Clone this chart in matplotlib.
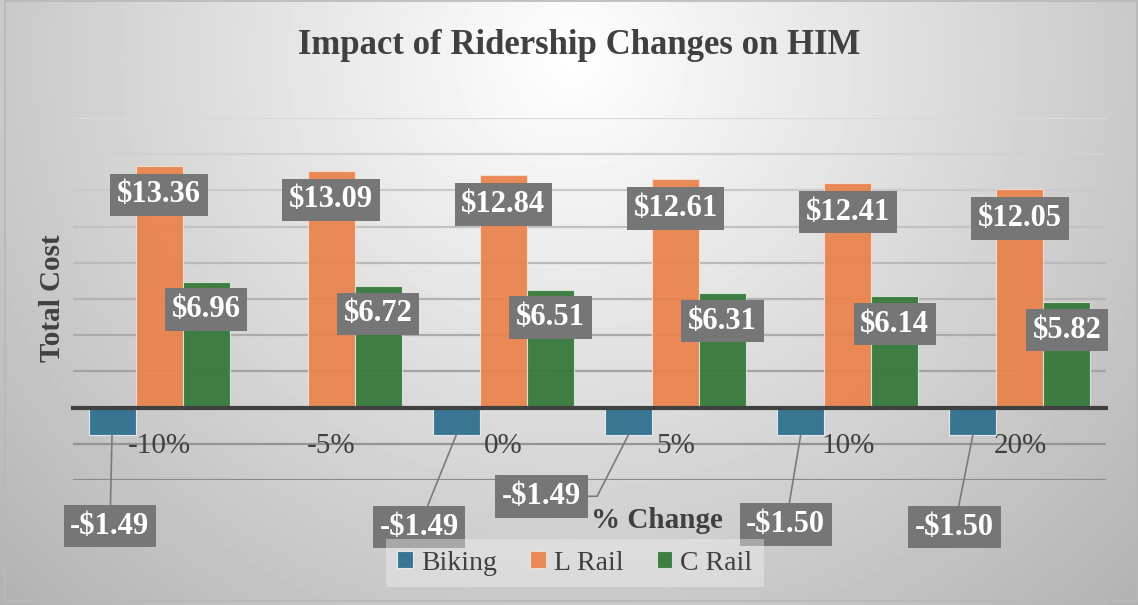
import matplotlib.pyplot as plt
from matplotlib.patches import Rectangle
import numpy as np

plt.rcParams['font.family'] = ['Liberation Serif', 'DejaVu Serif']

# Data
categories = ["-10%", "-5%", "0%", "5%", "10%", "20%"]
biking = [-1.49, np.nan, -1.49, -1.49, -1.50, -1.50]
l_rail = [13.36, 13.09, 12.84, 12.61, 12.41, 12.05]
c_rail = [6.96, 6.72, 6.51, 6.31, 6.14, 5.82]

# where the dragged Biking labels sit (data coords) -- layout only
biking_label_pos = [(-0.285, -6.55), None, (1.51, -6.6), (2.22, -4.9), (3.64, -6.45), (4.62, -6.6)]

col_bike = '#31718F'
col_l = '#E9824B'
col_c = '#36793B'
text_gray = '#404040'
box_gray = '#767676'

fig = plt.figure(figsize=(11.38, 6.05), dpi=100)

# radial gradient background
bg = fig.add_axes([0, 0, 1, 1], zorder=-10)
yy, xx = np.mgrid[0:605, 0:1138]
r = np.sqrt(((xx - 570) / 650.0) ** 2 + ((yy - 60) / 620.0) ** 2)
shade = np.clip(255 - 62 * r, 0, 255) / 255.0
bg.imshow(shade, cmap='gray', vmin=0, vmax=1, aspect='auto', interpolation='bilinear')
bg.axis('off')
fig.patches.append(Rectangle((0.004, 0.006), 0.995, 0.992, transform=fig.transFigure,
                             fill=False, edgecolor='#b8b8b8', linewidth=1.2))

ax = fig.add_axes([0.0641, 0.2066, 0.9078, 0.5984])
ax.set_facecolor('none')

x = np.arange(len(categories))
w = 0.273

# gridlines, lighter toward the top
grid_levels = np.arange(-4, 17, 2)
grid_cols = plt.cm.gray(np.linspace(0.55, 0.85, len(grid_levels)))
for lev, gc in zip(grid_levels, grid_cols):
    if lev != 0:
        ax.axhline(lev, color=gc, linewidth=1.6, zorder=0)

b1 = ax.bar(x - w, biking, w, color=col_bike, edgecolor='#e8eef2', linewidth=0.8, alpha=0.95, zorder=2, label='Biking')
b2 = ax.bar(x, l_rail, w, color=col_l, edgecolor='#f6e0d2', linewidth=0.8, alpha=0.93, zorder=2, label='L Rail')
b3 = ax.bar(x + w, c_rail, w, color=col_c, edgecolor='#d8e8d8', linewidth=0.8, alpha=0.95, zorder=2, label='C Rail')

ax.set_xlim(-0.5, len(categories) - 0.5)
ax.set_ylim(-4, 16)
ax.set_yticks([])
for s in ['left', 'right', 'top']:
    ax.spines[s].set_visible(False)
ax.spines['bottom'].set_position(('data', 0))
ax.spines['bottom'].set_color(text_gray)
ax.spines['bottom'].set_linewidth(3)
ax.spines['bottom'].set_zorder(3)
ax.set_xticks(x)
ax.set_xticklabels(categories, fontsize=21, color=text_gray)
ax.tick_params(axis='x', length=0, pad=18)

box = dict(boxstyle='square,pad=0.22', facecolor=box_gray, edgecolor='none')
lab_kw = dict(ha='center', va='center', fontsize=22, fontweight='bold', color='white',
              bbox=box, zorder=5, textcoords='offset points')

for xi, v in zip(x, l_rail):
    ax.annotate(f"${v:.2f}", (xi, v), xytext=(0, -21), **lab_kw)
for xi, v in zip(x, c_rail):
    ax.annotate(f"${v:.2f}", (xi + w, v), xytext=(0, -20), **lab_kw)

for xi, v, pos in zip(x, biking, biking_label_pos):
    if pos is None or np.isnan(v):
        continue
    if pos[1] > -5.5:
        conn = "angle,angleA=0,angleB=63,rad=0"
        rel = (1, 0.5)
    else:
        conn = "arc3"
        rel = (0.5, 0.5)
    ax.annotate(f"-${abs(v):.2f}", (xi - w, v), xytext=pos, textcoords='data',
                ha='center', va='center', fontsize=22, fontweight='bold', color='white',
                bbox=box, zorder=5, annotation_clip=False,
                arrowprops=dict(arrowstyle='-', color='#7a7a7a', linewidth=1.2,
                                shrinkA=0, shrinkB=0, relpos=rel, connectionstyle=conn))

fig.text(0.509, 1 - 45 / 605, "Impact of Ridership Changes on HIM", ha='center', va='center',
         fontsize=25, fontweight='bold', color=text_gray)
fig.text(52 / 1138, 1 - 298 / 605, "Total Cost", ha='center', va='center', rotation=90,
         fontsize=21, fontweight='bold', color=text_gray)
fig.text(657 / 1138, 1 - 521 / 605, "% Change", ha='center', va='center',
         fontsize=21, fontweight='bold', color=text_gray)

leg = fig.legend(handles=[b1, b2, b3], loc='center', bbox_to_anchor=(575 / 1138, 1 - 563 / 605),
                 ncol=3, fontsize=20, frameon=True, fancybox=False, handlelength=0.55,
                 handleheight=0.55, handletextpad=0.3, columnspacing=1.2, borderpad=0.4)
leg.get_frame().set_facecolor('#f4f4f4')
leg.get_frame().set_alpha(0.4)
leg.get_frame().set_edgecolor('none')
for t in leg.get_texts():
    t.set_color(text_gray)

fig.savefig('out.png', dpi=100)
